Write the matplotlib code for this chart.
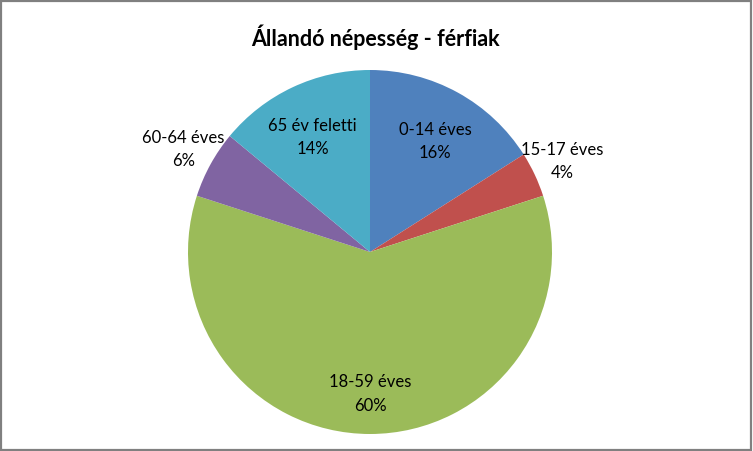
import matplotlib
matplotlib.use("Agg")

import matplotlib.pyplot as plt
import matplotlib.patches as mpatches
import numpy as np

# Data
categories = ["0-14 éves", "15-17 éves", "18-59 éves", "60-64 éves", "65 év feletti"]
shares = [16, 4, 60, 6, 14]
colors = ["#4F81BD", "#C0504D", "#9BBB59", "#8064A2", "#4BACC6"]
outside = [False, True, False, True, False]

plt.rcParams["font.family"] = ["Lato", "DejaVu Sans"]

W, H = 753, 451
fig = plt.figure(figsize=(W / 100, H / 100), dpi=100, facecolor="white")

# pie centre / radius in pixels
cx, cy, r = 370, 252, 182
ax = fig.add_axes([(cx - r) / W, (H - cy - r) / H, 2 * r / W, 2 * r / H])

wedges, _ = ax.pie(shares, colors=colors, startangle=90, counterclock=False,
                   radius=1, wedgeprops=dict(linewidth=0))
ax.set_xlim(-1, 1)
ax.set_ylim(-1, 1)
ax.set_aspect("equal")
ax.axis("off")

total = sum(shares)
for w, name, val, out in zip(wedges, categories, shares, outside):
    ang = np.deg2rad((w.theta1 + w.theta2) / 2)
    dist = 1.17 if out else 0.74
    x, y = dist * np.cos(ang), dist * np.sin(ang)
    if not out:
        y -= 0.04
    ax.text(x, y, f"{name}\n{round(100 * val / total)}%",
            ha="center", va="center", fontsize=12, color="#000000",
            linespacing=1.55, clip_on=False)

fig.text(cx / W + 5 / W, 1 - 37 / H, "Állandó népesség - férfiak",
         ha="center", va="center", fontsize=15.5, fontweight="bold")

# gray frame
fig.patches.append(mpatches.Rectangle((0.001, 0.002), 0.997, 0.995, transform=fig.transFigure,
                                      fill=False, edgecolor="#808080", linewidth=1.6))

plt.savefig("out.png", dpi=100, facecolor="white")
